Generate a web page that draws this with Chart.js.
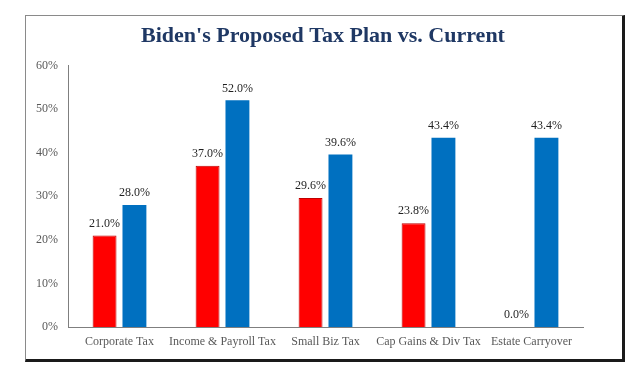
<!DOCTYPE html>
<html>
<head>
<meta charset="utf-8">
<script src="https://cdn.jsdelivr.net/npm/chart.js@4"></script>
<style>
    body { margin: 0; background: #fff; }
    #wrap { position: relative; width: 640px; height: 372px; }
    #frame {
        position: absolute; left: 25px; top: 15px; width: 596px; height: 343px;
        border-left: 1px solid #8a8a8a; border-top: 1px solid #8a8a8a;
        border-right: 3px solid #1a1a1a; border-bottom: 3px solid #1a1a1a;
    }
    canvas { position: absolute; left: 0; top: 0; }
</style>
</head>
<body>
<div id="wrap">
    <div id="frame"></div>
    <canvas id="chart" width="640" height="372"></canvas>
</div>
<script>
const chartTitle = "Biden's Proposed Tax Plan vs. Current";
const categories = ['Corporate Tax', 'Income & Payroll Tax', 'Small Biz Tax', 'Cap Gains & Div Tax', 'Estate Carryover'];
const proposed = [21.0, 37.0, 29.6, 23.8, 0.0];
const current = [28.0, 52.0, 39.6, 43.4, 43.4];
const yTicks = [0, 10, 20, 30, 40, 50, 60];

const serif = '"Liberation Serif", "DejaVu Serif", serif';

// Title centred on the whole frame, not just the plot
const frameTitle = {
    id: 'frameTitle',
    afterDraw(chart) {
        const ctx = chart.ctx;
        ctx.save();
        ctx.font = 'bold 22px ' + serif;
        ctx.fillStyle = '#1F3864';
        ctx.textAlign = 'center';
        ctx.textBaseline = 'middle';
        ctx.fillText(chartTitle, 323, 36);
        ctx.restore();
    }
};

// Draw value labels above each bar
const barLabels = {
    id: 'barLabels',
    afterDatasetsDraw(chart) {
        const ctx = chart.ctx;
        ctx.save();
        ctx.font = '12px ' + serif;
        ctx.fillStyle = '#1f1f1f';
        ctx.textAlign = 'center';
        ctx.textBaseline = 'bottom';
        chart.data.datasets.forEach((ds, i) => {
            chart.getDatasetMeta(i).data.forEach((bar, j) => {
                ctx.fillText(ds.data[j].toFixed(1) + '%', bar.x, bar.y - 6);
            });
        });
        ctx.restore();
    }
};

new Chart(document.getElementById('chart'), {
    type: 'bar',
    data: {
        labels: categories,
        datasets: [
            { label: 'Proposed', data: proposed, backgroundColor: '#FF0000', borderColor: '#C00000', borderWidth: 1 },
            { label: 'Current', data: current, backgroundColor: '#0070C0', borderWidth: 0 }
        ]
    },
    options: {
        responsive: false,
        animation: false,
        categoryPercentage: 0.58,
        barPercentage: 0.8,
        layout: { padding: { left: 0, right: 57, top: 65.5, bottom: 0 } },
        plugins: {
            legend: { display: false },
            tooltip: { enabled: false },
            title: { display: false }
        },
        scales: {
            x: {
                grid: { display: false, drawTicks: false },
                border: { color: '#7f7f7f' },
                ticks: { color: '#595959', font: { family: serif, size: 12 }, padding: 8, maxRotation: 0, autoSkip: false },
                afterFit(scale) { scale.height = 45; }
            },
            y: {
                min: 0,
                max: 60,
                afterBuildTicks(scale) { scale.ticks = yTicks.map(v => ({ value: v })); },
                grid: { display: false, drawTicks: false },
                border: { color: '#7f7f7f' },
                ticks: { color: '#595959', font: { family: serif, size: 12 }, padding: 10, callback: v => v + '%' },
                afterFit(scale) { scale.width = 68; }
            }
        }
    },
    plugins: [barLabels, frameTitle]
});
</script>
</body>
</html>
